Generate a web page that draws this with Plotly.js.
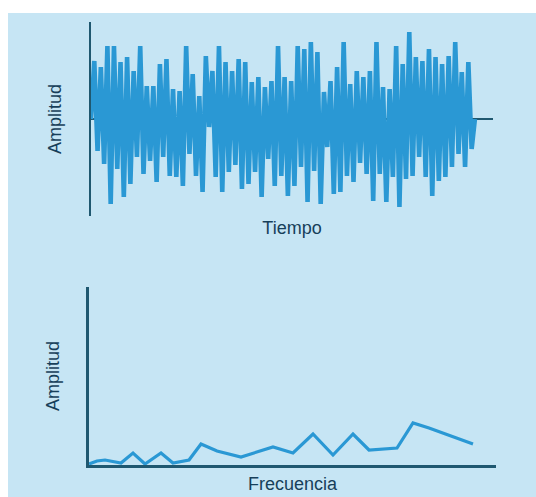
<!DOCTYPE html>
<html>
<head>
<meta charset="utf-8">
<script src="https://cdn.plot.ly/plotly-3.0.1.min.js"></script>
<style>
  html, body { margin: 0; padding: 0; background: #ffffff; }
  #chart { position: absolute; left: 8px; top: 13px; width: 528px; height: 484px; }
</style>
</head>
<body>
<div id="chart"></div>
<script>
// Top panel: amplitude of the signal over time (zero line = 0)
const timeSignal = [0, 58, -32, 52, -45, 73, -85, 73, -50, 57, -78, 62, -65, 48, -38, 73, -55, 33, -42, 33,
  -63, 55, -38, 60, -57, 30, -58, 28, -67, 73, -35, 45, -57, 23, -73, 63, -8, 48, -58, 73,
  -73, 57, -53, 48, -46, 60, -70, 57, -65, 37, -53, 42, -78, 32, -40, 38, -67, 73, -57, 42,
  -77, 38, -67, 73, -48, 70, -83, 77, -52, 67, -85, 27, -28, 38, -75, 52, -73, 77, -57, 35,
  -63, 48, -44, 42, -55, 48, -82, 77, -55, 32, -83, 30, -58, 73, -88, 55, -60, 87, -57, 62,
  -38, 58, -58, 70, -77, 62, -62, 55, -58, 63, -48, 77, -35, 47, -48, 57, -30, 0];
const timeIndex = timeSignal.map((_, i) => i);

// Bottom panel: spectrum (frequency, amplitude)
const frequency = [0, 2, 4, 8, 11, 14, 18, 21, 25, 28, 32, 38, 46, 51, 56, 61, 66, 70, 77, 81, 85, 96];
const spectrumAmp = [1, 4, 5, 2, 12, 1, 12, 2, 5, 21, 14, 8, 18, 12, 31, 10, 31, 15, 17, 42, 37, 21];

const labelY = "Amplitud";
const labelTime = "Tiempo";
const labelFreq = "Frecuencia";

const lineBlue = "#2a98d4";
const axisDark = "#1f5870";
const textDark = "#173f5a";
const bg = "#c6e5f4";
const W = 528, H = 484;

const traces = [
  { x: timeIndex, y: timeSignal, type: "scatter", mode: "lines",
    line: { color: lineBlue, width: 4.6 }, xaxis: "x", yaxis: "y", hoverinfo: "skip" },
  { x: frequency, y: spectrumAmp, type: "scatter", mode: "lines",
    line: { color: lineBlue, width: 3.2 }, xaxis: "x2", yaxis: "y2", hoverinfo: "skip" }
];

const n = timeSignal.length;
const layout = {
  width: W, height: H,
  margin: { l: 0, r: 0, t: 0, b: 0 },
  paper_bgcolor: bg, plot_bgcolor: "rgba(0,0,0,0)",
  showlegend: false,
  font: { family: "Liberation Sans, Arial, sans-serif", color: textDark, size: 18 },
  xaxis: {
    domain: [83 / W, 485 / W], anchor: "y",
    range: [0, (n - 1) / 0.955],
    showline: false, zeroline: false, showgrid: false, showticklabels: false, ticks: "",
    title: { text: labelTime, font: { size: 18, color: textDark }, standoff: 5 }
  },
  yaxis: {
    domain: [1 - 203 / H, 1 - 9 / H], anchor: "x",
    range: [-97, 97],
    showline: true, linecolor: axisDark, linewidth: 2.5,
    zeroline: true, zerolinecolor: axisDark, zerolinewidth: 2.5,
    showgrid: false, showticklabels: false, ticks: "",
    title: { text: labelY, font: { size: 18, color: textDark }, standoff: 22 }
  },
  xaxis2: {
    domain: [81 / W, 488 / W], anchor: "y2",
    range: [0, 101.75],
    showline: true, linecolor: axisDark, linewidth: 3,
    zeroline: false, showgrid: false, showticklabels: false, ticks: "",
    title: { text: labelFreq, font: { size: 18, color: textDark }, standoff: 11 }
  },
  yaxis2: {
    domain: [1 - 452 / H, 1 - 274 / H], anchor: "x2",
    range: [0, 178],
    showline: true, linecolor: axisDark, linewidth: 3,
    zeroline: false, showgrid: false, showticklabels: false, ticks: "",
    title: { text: labelY, font: { size: 18, color: textDark }, standoff: 22 }
  }
};

Plotly.newPlot("chart", traces, layout, { displayModeBar: false, staticPlot: true });
</script>
</body>
</html>
